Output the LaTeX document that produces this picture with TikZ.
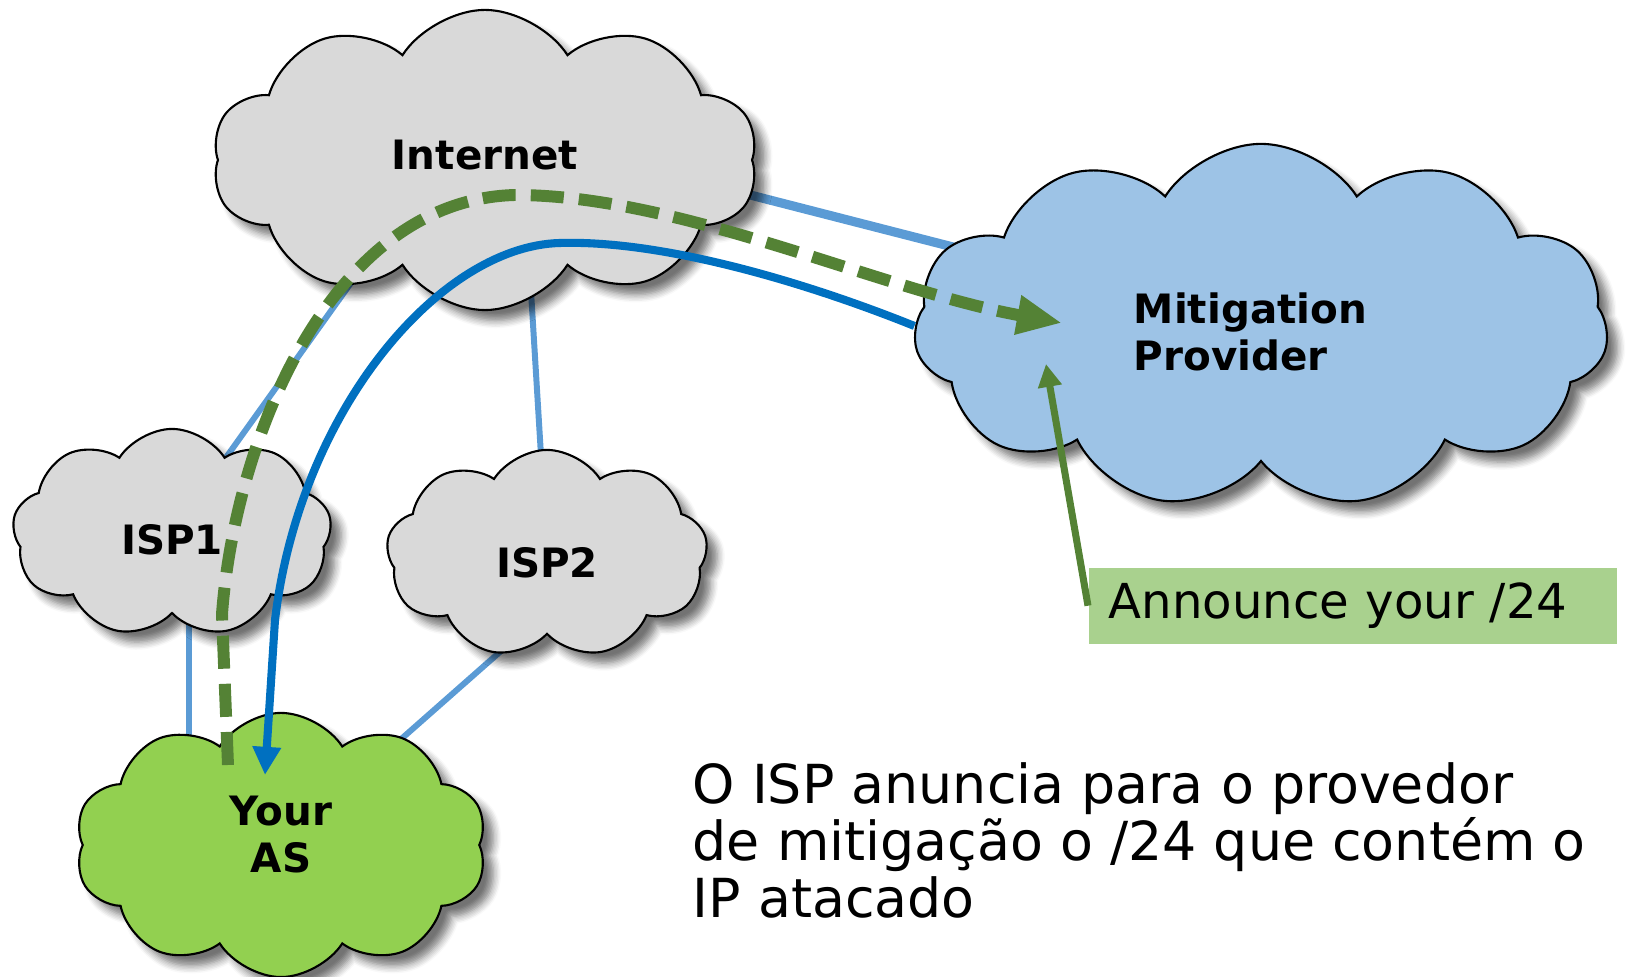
\documentclass[tikz,border=0pt]{standalone}
\usepackage{fontspec}
\setmainfont{DejaVu Sans}
\usetikzlibrary{arrows.meta,shapes.symbols,positioning,backgrounds,shadows.blur}
\definecolor{cloudgray}{RGB}{217,217,217}
\definecolor{mitblue}{RGB}{157,195,230}
\definecolor{asgreen}{RGB}{146,208,80}
\definecolor{linkblue}{RGB}{91,155,213}
\definecolor{pathblue}{RGB}{0,112,192}
\definecolor{pathgreen}{RGB}{84,130,53}
\definecolor{annfill}{RGB}{169,209,142}

\begin{document}
\begin{tikzpicture}[x=0.01cm, y=-0.01cm,
  cloudnode/.style={cloud, cloud puffs=10, cloud puff arc=115, cloud ignores aspect,
    draw=black, line width=0.6pt, align=center, inner sep=0pt,
    font=\bfseries\fontsize{11.5}{13.4}\selectfont,
    blur shadow={shadow xshift=3pt, shadow yshift=-3pt, shadow blur steps=6, shadow opacity=55}},
  link/.style={linkblue, line width=1.7pt},
  announce/.style={pathgreen, line width=3.4pt, dash pattern=on 9.4pt off 4.3pt,
    -{Triangle[length=12.8pt,width=10.5pt]}},
  reply/.style={pathblue, line width=2.3pt, -{Triangle[length=8pt,width=7.7pt]}},
  pointer/.style={pathgreen, line width=2pt, -{Triangle[length=6.5pt,width=6.5pt]}},
  annbox/.style={fill=annfill, minimum width=5.28cm, minimum height=0.76cm,
    text width=4.88cm, inner xsep=0.2cm, align=left,
    font=\fontsize{13.7}{16}\selectfont},
  bodytext/.style={align=left, inner sep=0pt, font=\fontsize{15.3}{16.2}\selectfont}]
\useasboundingbox (0,0) rectangle (1632,977);

% clouds
\node[cloudnode, fill=cloudgray, minimum width=5.45cm, minimum height=3.0cm, text depth=3pt] (inet) at (485,160) {Internet};
\node[cloudnode, fill=cloudgray, cloud puffs=9, minimum width=3.19cm, minimum height=2.08cm, text height=12.3pt] (isp1) at (172,533) {ISP1};
\node[cloudnode, fill=cloudgray, cloud puffs=9, minimum width=3.21cm, minimum height=2.08cm, text height=13.4pt] (isp2) at (547,554) {ISP2};
\node[cloudnode, fill=asgreen, minimum width=4.12cm, minimum height=2.64cm] (youras) at (281,845)
  {Your\\\raisebox{0pt}[\height][\dimexpr\depth+0.2cm\relax]{AS}};
\node[cloudnode, fill=mitblue, cloud puffs=11, minimum width=6.94cm, minimum height=3.64cm, align=left] (mit) at (1261,326)
  {\raisebox{0pt}[\dimexpr\height+0.12cm\relax]{Mitigation}\hspace*{0.21cm}\\Provider};

% links behind the clouds
\begin{scope}[on background layer]
  \draw[link, line width=2.6pt] ([yshift=0.33cm]inet.center) -- (mit.center);
  \draw[link] ([xshift=-0.46cm]inet.center) -- (isp1.center);
  \draw[link] ([xshift=0.38cm]inet.center) -- (isp2.center);
  \draw[link] ([xshift=0.17cm]isp1.center) -- ([xshift=0.17cm]isp1.center |- youras.center);
  \draw[link] ([xshift=0.64cm]isp2.center) -- (youras.center);
\end{scope}

% traffic back to the AS
\coordinate (asTip) at (265,775);
\draw[reply] (mit.west) .. controls (800,280) and (660,240) .. (560,243)
  .. controls (440,246) and (300,410) .. (275,620) -- (asTip);

% announcement of the /24
\coordinate (asStart) at (228,765);
\coordinate (mitTip) at (1062,323);
\draw[announce] (asStart) -- (222,614) .. controls (235,440) and (330,200) .. (515,195)
  .. controls (680,195) and (880,290) .. (mitTip);

\node[annbox, anchor=north west] (ann) at (1088,567) {Announce your /24};
\coordinate (annTip) at (1046,364);
\draw[pointer] (ann.west) -- (annTip);

\node[bodytext, anchor=north west] (note) at (692,762) {O ISP anuncia para o provedor\\de mitigação o /24 que contém o\\IP atacado};
\end{tikzpicture}
\end{document}
